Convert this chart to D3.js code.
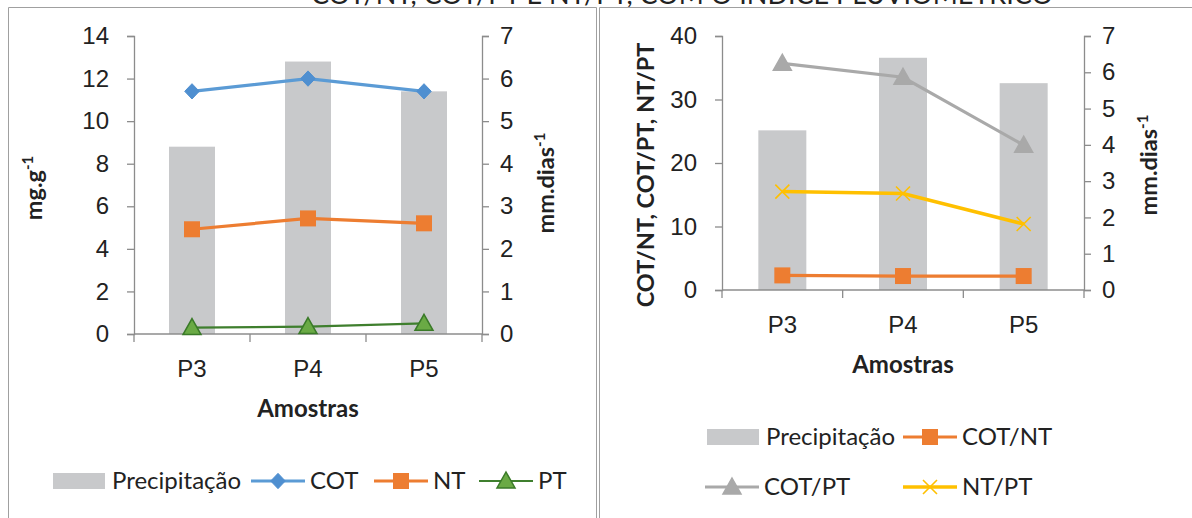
<!DOCTYPE html>
<html>
<head>
<meta charset="utf-8">
<title>COT, NT, PT e precipitação</title>
<script src="https://d3js.org/d3.v7.min.js"></script>
<style>
  body { margin: 0; background: #fff; }
  svg { display: block; font-family: Lato, "Open Sans", sans-serif; }
  .tick text { fill: #222; }
</style>
</head>
<body>
<div id="chart"></div>
<script>
// data
const amostras = ["P3", "P4", "P5"];
const precipitacao = [4.4, 6.4, 5.7];        // mm.dias-1 (bars, right axis)
const cot = [11.4, 12.0, 11.4];              // mg.g-1
const nt = [4.92, 5.43, 5.2];
const pt = [0.3, 0.35, 0.5];
const cotNt = [2.3, 2.2, 2.2];
const cotPt = [35.7, 33.5, 22.8];
const ntPt = [15.5, 15.2, 10.4];
const leftTicksA = [0, 2, 4, 6, 8, 10, 12, 14];
const leftTicksB = [0, 10, 20, 30, 40];
const rightTicks = [0, 1, 2, 3, 4, 5, 6, 7];

const W = 1192, H = 518;
const grayBar = "#c8c9cb", axisCol = "#8c8c8c";

const svg = d3.select("#chart").append("svg")
    .attr("width", W).attr("height", H);

// title, mostly cut off at the top edge (as in the source)
svg.append("text")
    .attr("x", 682).attr("y", 3.5)
    .attr("text-anchor", "middle")
    .attr("font-size", 27)
    .attr("fill", "#222")
    .text("COT/NT, COT/PT E NT/PT, COM O ÍNDICE PLUVIOMÉTRICO");

// panel frames
svg.append("path")
    .attr("d", "M8.5,530 V7.5 H596.5 V530")
    .attr("fill", "none").attr("stroke", "#a0a0a0");
svg.append("path")
    .attr("d", "M599.5,530 V7.5 H1200")
    .attr("fill", "none").attr("stroke", "#a0a0a0");

function marker(g, type, color, x, y) {
    if (type === "diamond") {
        g.append("path").attr("d", d3.symbol(d3.symbolDiamond2, 150)())
            .attr("transform", `translate(${x},${y}) scale(0.95,1)`)
            .attr("fill", color).attr("stroke", color);
    } else if (type === "square") {
        g.append("rect").attr("x", x - 8).attr("y", y - 8)
            .attr("width", 16).attr("height", 16).attr("fill", color);
    } else if (type === "triangle") {
        g.append("path").attr("d", `M${x},${y - 9} L${x + 9},${y + 7} L${x - 9},${y + 7} Z`)
            .attr("fill", color.fill).attr("stroke", color.stroke).attr("stroke-width", 1.5);
    } else if (type === "cross") {
        g.append("path").attr("d", `M${x - 7},${y - 7} L${x + 7},${y + 7} M${x - 7},${y + 7} L${x + 7},${y - 7}`)
            .attr("stroke", color).attr("stroke-width", 1.6);
    }
}

function drawPanel(p) {
    const g = svg.append("g");
    const x = d3.scaleBand().domain(amostras).range([p.x0, p.x1]).paddingInner(0).paddingOuter(0);
    const yL = d3.scaleLinear().domain([0, p.leftMax]).range([p.y0, p.y1]);
    const yR = d3.scaleLinear().domain([0, 7]).range([p.y0, p.y1]);

    // bars
    g.selectAll("rect.bar").data(precipitacao).join("rect")
        .attr("class", "bar")
        .attr("x", (d, i) => x(amostras[i]) + x.bandwidth() / 2 - p.barW / 2)
        .attr("width", p.barW)
        .attr("y", d => yR(d))
        .attr("height", d => p.y0 - yR(d))
        .attr("fill", grayBar);

    // axes
    const axL = g.append("g").attr("transform", `translate(${p.x0},0)`)
        .call(d3.axisLeft(yL).tickValues(p.leftTicks).tickFormat(d3.format("d")).tickSize(7).tickPadding(18));
    const axR = g.append("g").attr("transform", `translate(${p.x1},0)`)
        .call(d3.axisRight(yR).tickValues(rightTicks).tickFormat(d3.format("d")).tickSize(7).tickPadding(11));
    const axX = g.append("g").attr("transform", `translate(0,${p.y0})`)
        .call(d3.axisBottom(x).tickSize(0).tickPadding(26));
    [axL, axR, axX].forEach(a => {
        a.select(".domain").attr("stroke", axisCol).attr("stroke-width", 1.3);
        a.selectAll(".tick line").attr("stroke", axisCol).attr("stroke-width", 1.3);
        a.selectAll(".tick text").attr("font-size", 24).attr("fill", "#222");
    });
    axX.select(".domain").attr("d", `M${p.x0},0H${p.x1}`);
    // category boundary ticks below the x axis
    g.selectAll("line.ctick").data([p.x0, ...amostras.map(a => x(a) + x.bandwidth())]).join("line")
        .attr("class", "ctick")
        .attr("x1", d => d).attr("x2", d => d)
        .attr("y1", p.y0).attr("y2", p.y0 + 8)
        .attr("stroke", axisCol).attr("stroke-width", 1.3);

    // lines
    p.series.forEach(s => {
        const line = d3.line().x((d, i) => x(amostras[i]) + x.bandwidth() / 2).y(d => yL(d));
        g.append("path").datum(s.values).attr("d", line)
            .attr("fill", "none").attr("stroke", s.color).attr("stroke-width", s.width);
        s.values.forEach((v, i) => marker(g, s.marker, s.markerColor, x(amostras[i]) + x.bandwidth() / 2, yL(v)));
    });

    // axis titles
    const lt = g.append("text")
        .attr("transform", `translate(${p.ltx},${p.lty}) rotate(-90)`)
        .attr("text-anchor", "middle").attr("font-size", 23.5).attr("font-weight", "bold").attr("fill", "#222");
    lt.append("tspan").text(p.leftTitle);
    if (p.leftSup) lt.append("tspan").attr("dy", -9).attr("font-size", 15).text(p.leftSup);

    const rt = g.append("text")
        .attr("transform", `translate(${p.rtx},${p.rty}) rotate(-90)`)
        .attr("text-anchor", "middle").attr("font-size", 23.5).attr("font-weight", "bold").attr("fill", "#222");
    rt.append("tspan").text("mm.dias");
    rt.append("tspan").attr("dy", -9).attr("font-size", 15).text("-1");

    g.append("text").attr("x", (p.x0 + p.x1) / 2).attr("y", p.y0 + 83)
        .attr("text-anchor", "middle").attr("font-size", 24).attr("font-weight", "bold").attr("fill", "#222")
        .text("Amostras");

    // legend
    p.legend.forEach(it => {
        if (it.bar) {
            g.append("rect").attr("x", it.x).attr("y", it.y - 8).attr("width", 52).attr("height", 16).attr("fill", grayBar);
        } else {
            g.append("line").attr("x1", it.x).attr("x2", it.x + 54).attr("y1", it.y).attr("y2", it.y)
                .attr("stroke", it.s.color).attr("stroke-width", it.s.width);
            marker(g, it.s.marker, it.s.markerColor, it.x + 27, it.y);
        }
        g.append("text").attr("x", it.x + 59).attr("y", it.y).attr("dy", "0.35em")
            .attr("font-size", 24).attr("fill", "#222").text(it.label);
    });
}

const sCot = { values: cot, color: "#5b9bd5", width: 3.2, marker: "diamond", markerColor: "#4f8fd0" };
const sNt = { values: nt, color: "#ed7d31", width: 3.2, marker: "square", markerColor: "#ed7d31" };
const sPt = { values: pt, color: "#3f7f2e", width: 2.2, marker: "triangle", markerColor: { fill: "#6aaa45", stroke: "#3a7a28" } };
const sCotNt = { values: cotNt, color: "#ed7d31", width: 3.2, marker: "square", markerColor: "#ed7d31" };
const sCotPt = { values: cotPt, color: "#a9a9a9", width: 3.2, marker: "triangle", markerColor: { fill: "#a9a9a9", stroke: "#a9a9a9" } };
const sNtPt = { values: ntPt, color: "#ffc000", width: 3.6, marker: "cross", markerColor: "#ffc000" };

drawPanel({
    x0: 134, x1: 482, y0: 334, y1: 36, leftMax: 14, leftTicks: leftTicksA, barW: 46,
    series: [sCot, sNt, sPt],
    leftTitle: "mg.g", leftSup: "-1", ltx: 42, lty: 188, rtx: 554, rty: 183,
    legend: [
        { bar: true, x: 53, y: 481, label: "Precipitação" },
        { s: sCot, x: 251, y: 481, label: "COT" },
        { s: sNt, x: 374, y: 481, label: "NT" },
        { s: sPt, x: 479, y: 481, label: "PT" }
    ]
});

drawPanel({
    x0: 722, x1: 1084, y0: 290, y1: 36, leftMax: 40, leftTicks: leftTicksB, barW: 48,
    series: [sCotNt, sCotPt, sNtPt],
    leftTitle: "COT/NT, COT/PT, NT/PT", leftSup: null, ltx: 654, lty: 175, rtx: 1157, rty: 165,
    legend: [
        { bar: true, x: 707, y: 437, label: "Precipitação" },
        { s: sCotNt, x: 903, y: 437, label: "COT/NT" },
        { s: sCotPt, x: 705, y: 487, label: "COT/PT" },
        { s: sNtPt, x: 903, y: 487, label: "NT/PT" }
    ]
});
</script>
</body>
</html>
